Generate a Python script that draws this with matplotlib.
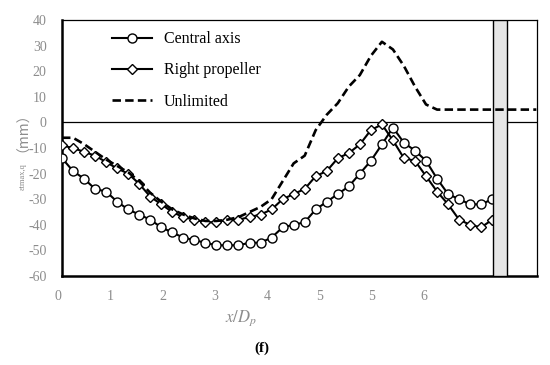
import numpy as np
import matplotlib.pyplot as plt
from matplotlib.transforms import ScaledTranslation
from matplotlib.patches import Rectangle

central_axis = [-14, -19, -22, -26, -27, -31, -34, -36, -38, -41,
                -43, -45, -46, -47, -48, -48, -48, -47, -47, -45,
                -41, -40, -39, -34, -31, -28, -25, -20, -15, -8.6,
                -2, -8, -11, -15, -22, -28, -30, -32, -32, -30]
right_propeller = [-9, -10, -11.5, -13, -15.5, -18, -20, -24, -29, -32,
                   -35, -37, -38, -39, -39, -38, -38, -37, -36, -34,
                   -30, -28, -26, -21, -19, -14, -12, -8.6, -3, -0.8,
                   -7, -14, -15, -21, -27, -32, -38, -40, -41, -38]
unlimited = [-6, -6, -8.5, -11.5, -14.5, -17, -19.5, -23, -27.5, -31,
             -34, -36, -37.5, -38.5, -38.5, -38, -37, -35, -33, -30,
             -23, -16, -13, -3, 3, 7.5, 14, 18.5, 26, 31.5,
             28.5, 22, 14, 7, 5, 5, 5, 5, 5, 5,
             5, 5, 5, 5]
xtick_labels = ['0', '1', '2', '3', '4', '5', '5', '6']
yticks = [-60, -50, -40, -30, -20, -10, 0, 10, 20, 30, 40]

gray = '#8c8c8c'
serif = ['Liberation Serif', 'Noto Sans CJK SC']
plt.rcParams['font.family'] = serif
plt.rcParams['axes.unicode_minus'] = False

fig = plt.figure(figsize=(5.5, 3.65), dpi=100)
ax = fig.add_axes([62/550, 1 - 276/365, 475/550, 256/365])

ax.plot(range(len(central_axis)), central_axis, 'k-', lw=1.5, marker='o', ms=6.5,
        mfc='white', mec='black', mew=1.0, label='Central axis', zorder=3)
ax.plot(range(len(right_propeller)), right_propeller, 'k-', lw=1.5, marker='D', ms=5,
        mfc='white', mec='black', mew=1.0, label='Right propeller', zorder=3)
ax.plot(range(len(unlimited)), unlimited, 'k--', lw=1.9, dashes=(3.2, 1.6),
        label='Unlimited', zorder=5)

ax.axhline(0, color='black', lw=0.9, zorder=2)

# grey strip (model wall) over the measuring lines
ax.add_patch(Rectangle((39.07, -60), 1.27, 100, facecolor='#e6e6e6',
                       edgecolor='black', lw=1.0, zorder=4))

ax.set_xlim(0, 43.06)
ax.set_ylim(-60, 40)
ax.set_yticks(yticks)
ax.set_xticks(np.arange(len(xtick_labels)) * 4.742)
ax.set_xticklabels(xtick_labels)
ax.tick_params(length=0, labelsize=10, colors=gray, pad=10)
ax.tick_params(axis='y', pad=11)
shift = ScaledTranslation(-4/100, 0, fig.dpi_scale_trans)
for lab in ax.get_xticklabels():
    lab.set_transform(lab.get_transform() + shift)

for side in ['left', 'bottom']:
    ax.spines[side].set_linewidth(1.8)
for side in ['top', 'right']:
    ax.spines[side].set_linewidth(0.9)

leg = ax.legend(loc='upper left', bbox_to_anchor=(0.082, 1.0), frameon=False,
                fontsize=11.5, handlelength=2.5, handletextpad=0.75,
                labelspacing=0.95, borderpad=0.2)
for t in leg.get_texts():
    t.set_color('black')

fig.text(241/550, 1 - 318/365, r'$x/D_p$', color=gray, fontsize=12, ha='center', va='center',
         math_fontfamily='stix')
fig.text(262/550, 1 - 348/365, '(f)', fontweight='bold', fontsize=11, ha='center', va='center')
fig.text(16/550, 1 - 125/365, '（mm）', rotation=90, color=gray, fontsize=10,
         ha='center', va='center', family=['Noto Sans CJK SC', 'DejaVu Sans'])
fig.text(23/550, 1 - 177/365, 'εtmax,q', rotation=90, color=gray, fontsize=6,
         ha='center', va='center')

fig.savefig('out.png', dpi=100)
